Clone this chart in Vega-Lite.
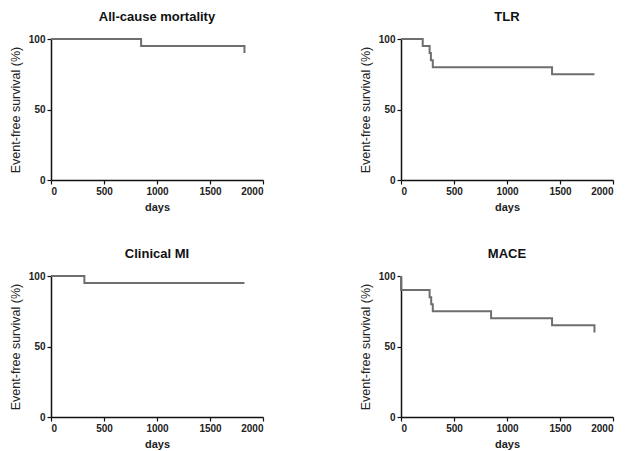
{
  "$schema": "https://vega.github.io/schema/vega-lite/v6.json",
  "background": "white",
  "padding": {"left": 9, "top": 11, "right": 5, "bottom": 5},
  "data": {
    "values": [
      {"panel": "All-cause mortality", "step": 1, "days": 0, "survival": 100},
      {"panel": "All-cause mortality", "step": 2, "days": 850, "survival": 95},
      {"panel": "All-cause mortality", "step": 3, "days": 1825, "survival": 95},
      {"panel": "All-cause mortality", "step": 4, "days": 1825, "survival": 90},
      {"panel": "TLR", "step": 1, "days": 0, "survival": 100},
      {"panel": "TLR", "step": 2, "days": 205, "survival": 95},
      {"panel": "TLR", "step": 3, "days": 270, "survival": 90},
      {"panel": "TLR", "step": 4, "days": 282, "survival": 85},
      {"panel": "TLR", "step": 5, "days": 300, "survival": 80},
      {"panel": "TLR", "step": 6, "days": 1425, "survival": 75},
      {"panel": "TLR", "step": 7, "days": 1825, "survival": 75},
      {"panel": "Clinical MI", "step": 1, "days": 0, "survival": 100},
      {"panel": "Clinical MI", "step": 2, "days": 315, "survival": 95},
      {"panel": "Clinical MI", "step": 3, "days": 1825, "survival": 95},
      {"panel": "MACE", "step": 1, "days": 0, "survival": 100},
      {"panel": "MACE", "step": 2, "days": 0, "survival": 90},
      {"panel": "MACE", "step": 3, "days": 270, "survival": 85},
      {"panel": "MACE", "step": 4, "days": 285, "survival": 80},
      {"panel": "MACE", "step": 5, "days": 300, "survival": 75},
      {"panel": "MACE", "step": 6, "days": 850, "survival": 70},
      {"panel": "MACE", "step": 7, "days": 1425, "survival": 65},
      {"panel": "MACE", "step": 8, "days": 1825, "survival": 65},
      {"panel": "MACE", "step": 9, "days": 1825, "survival": 60}
    ]
  },
  "facet": {
    "field": "panel",
    "type": "nominal",
    "sort": ["All-cause mortality", "TLR", "Clinical MI", "MACE"],
    "header": {
      "title": null,
      "labelFont": "Liberation Sans",
      "labelFontSize": 13,
      "labelFontWeight": "bold",
      "labelColor": "#111",
      "labelPadding": 10
    }
  },
  "columns": 2,
  "spacing": {"row": 36, "column": 95},
  "resolve": {"axis": {"x": "independent", "y": "independent"}},
  "spec": {
    "width": 212,
    "height": 141,
    "mark": {"type": "line", "interpolate": "step-after", "color": "#6e6e6e", "strokeWidth": 2},
    "encoding": {
      "x": {
        "field": "days",
        "type": "quantitative",
        "scale": {"domain": [0, 2000], "nice": false, "zero": true},
        "axis": {"values": [0, 500, 1000, 1500, 2000], "format": "d", "title": "days", "titleFontWeight": "bold", "titlePadding": 5}
      },
      "y": {
        "field": "survival",
        "type": "quantitative",
        "scale": {"domain": [0, 100], "nice": false},
        "axis": {"values": [0, 50, 100], "format": "d", "title": "Event-free survival (%)", "titleFontWeight": "normal", "titleFontSize": 12.5, "titlePadding": 6}
      },
      "order": {"field": "step", "type": "quantitative"}
    }
  },
  "config": {
    "view": {"stroke": null},
    "axis": {
      "grid": false,
      "domainColor": "#111",
      "domainWidth": 1.5,
      "tickColor": "#111",
      "tickWidth": 1.2,
      "tickSize": 4,
      "labelFont": "Liberation Sans",
      "labelFontSize": 10,
      "labelFontWeight": "bold",
      "labelColor": "#222",
      "labelPadding": 2,
      "titleFont": "Liberation Sans",
      "titleFontSize": 11,
      "titleColor": "#222"
    }
  }
}
